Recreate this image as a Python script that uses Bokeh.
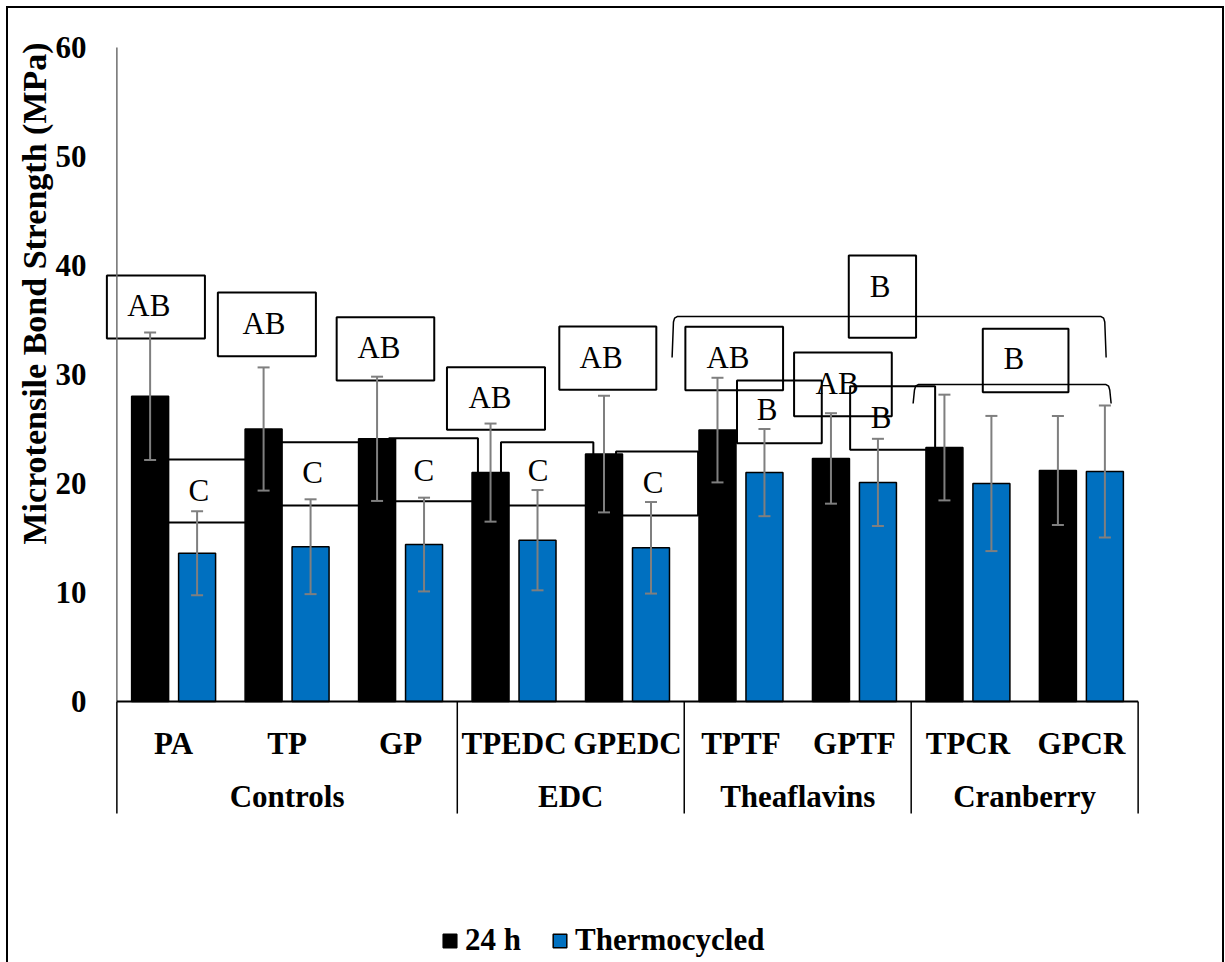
import numpy as np
from bokeh.plotting import figure
from bokeh.models import (ColumnDataSource, FactorRange, Range1d, FixedTicker, Whisker,
                          TeeHead, Legend, LegendItem, Title, InlineStyleSheet)
from bokeh.transform import dodge
from bokeh.core.properties import value
from bokeh.embed import file_html
from bokeh.resources import INLINE

# ---------------- data ----------------
samples = ["PA", "TP", "GP", "TPEDC", "GPEDC", "TPTF", "GPTF", "TPCR", "GPCR"]
groups = ["Controls", "EDC", "Theaflavins", "Cranberry"]
group_sizes = [3, 2, 2, 2]
series_names = ["24 h", "Thermocycled"]
mean_24h = [28.0, 25.0, 24.1, 21.0, 22.7, 24.9, 22.3, 23.3, 21.2]
sd_24h = [5.85, 5.65, 5.7, 4.5, 5.35, 4.8, 4.15, 4.85, 5.0]
mean_tc = [13.6, 14.2, 14.4, 14.8, 14.1, 21.0, 20.1, 20.0, 21.1]
sd_tc = [3.85, 4.35, 4.3, 4.6, 4.2, 4.0, 4.0, 6.2, 6.05]
y_ticks = [0, 10, 20, 30, 40, 50, 60]
y_title = "Microtensile Bond Strength  (MPa)"

# significance letters (text boxes drawn on the chart)
sig_letters = ["AB", "C", "AB", "C", "AB", "C", "AB", "C", "AB", "C",
               "AB", "B", "AB", "B", "B", "B"]

# ---------------- layout of annotations (data coordinates) ----------------
# (left, right, top, bottom, text_x, text_y)
box_layout = [
    (-0.088, 0.776, 39.08, 33.30, 0.282, 36.33),
    (0.388, 1.181, 22.20, 16.42, 0.723, 19.36),
    (0.890, 1.754, 37.52, 31.68, 1.296, 34.68),
    (1.402, 2.195, 23.79, 17.98, 1.725, 21.04),
    (1.937, 2.797, 35.26, 29.45, 2.310, 32.48),
    (2.398, 3.182, 24.16, 18.38, 2.706, 21.19),
    (2.909, 3.773, 30.67, 24.93, 3.288, 27.89),
    (3.385, 4.199, 23.79, 17.98, 3.711, 21.19),
    (3.899, 4.754, 34.40, 28.60, 4.267, 31.56),
    (4.399, 5.122, 22.94, 17.06, 4.725, 20.09),
    (5.010, 5.871, 34.38, 28.56, 5.385, 31.56),
    (5.465, 6.212, 29.45, 23.70, 5.730, 26.79),
    (5.968, 6.829, 32.02, 26.17, 6.347, 29.17),
    (6.462, 7.211, 28.93, 23.09, 6.735, 26.08),
    (6.450, 7.043, 40.92, 33.37, 6.726, 38.07),
    (7.631, 8.386, 34.20, 28.38, 7.905, 31.44),
]
# brackets: (x0, x1, y_top, y_bottom)
brackets = [(4.893, 8.718, 35.32, 31.56), (7.017, 8.762, 29.08, 27.34)]

FONT = "Liberation Serif"
BLUE = "#0070C0"
GRAY = "#7F7F7F"
off = 0.207
bar_w = 0.326

src = ColumnDataSource(dict(
    sample=samples,
    m24=mean_24h, mtc=mean_tc,
    up24=[m + s for m, s in zip(mean_24h, sd_24h)],
    lo24=[m - s for m, s in zip(mean_24h, sd_24h)],
    uptc=[m + s for m, s in zip(mean_tc, sd_tc)],
    lotc=[m - s for m, s in zip(mean_tc, sd_tc)],
))

border_css = InlineStyleSheet(css="""
:host { position: relative; overflow: hidden; }
:host::after {
  content: ""; position: absolute; left: 6px; top: 6px; width: 1218px; height: 990px;
  border: 2px solid black; box-sizing: border-box; pointer-events: none; z-index: 100;
}
""")

p = figure(width=1225, height=962, output_backend="svg", toolbar_location=None,
           x_range=FactorRange(factors=samples, range_padding=0.25,
                               range_padding_units="absolute"),
           y_range=Range1d(-23.945, 64.312), x_axis_location=None,
           min_border_left=88, min_border_right=59, min_border_top=0,
           min_border_bottom=0, stylesheets=[border_css])
p.outline_line_color = None
p.xgrid.visible = False
p.ygrid.visible = False
p.background_fill_color = "white"
p.border_fill_color = "white"

ax = p.yaxis[0]
ax.ticker = FixedTicker(ticks=y_ticks)
ax.axis_line_color = None
ax.major_tick_line_color = None
ax.minor_tick_line_color = None
ax.major_label_standoff = -4
ax.major_label_text_font = FONT
ax.major_label_text_font_style = "bold"
ax.major_label_text_font_size = "31px"
ax.major_label_text_color = "black"

# y axis title (left panel, shifted up along the axis)
p.add_layout(Title(text=y_title, align="left", offset=418, standoff=0,
                   text_font=FONT, text_font_style="bold", text_font_size="34px",
                   text_color="black"), "left")

# significance boxes (behind bars)
p.quad(left=[b[0] for b in box_layout], right=[b[1] for b in box_layout],
       top=[b[2] for b in box_layout], bottom=[b[3] for b in box_layout],
       fill_color=None, line_color="black", line_width=2)

# bars
r1 = p.vbar(x=dodge("sample", -off, range=p.x_range), top="m24", width=bar_w,
            source=src, fill_color="black", line_color="black", line_width=1.5)
r2 = p.vbar(x=dodge("sample", off, range=p.x_range), top="mtc", width=bar_w,
            source=src, fill_color=BLUE, line_color="black", line_width=1.5)

# axis lines and category table
p.segment(x0=[0], y0=[0], x1=[0], y1=[max(y_ticks)], line_color="#6E6E6E", line_width=1.5)
bounds = [0] + [int(v) for v in np.cumsum(group_sizes)]
p.segment(x0=bounds, y0=[0] * len(bounds), x1=bounds, y1=[-10.28] * len(bounds),
          line_color="black", line_width=1.5)
p.segment(x0=[0], y0=[0], x1=[len(samples)], y1=[0], line_color="black", line_width=2)

# brackets
for (x0, x1, yt, yb) in brackets:
    xs = [x0, x0 + 0.012, x0 + 0.022, x0 + 0.045, x1 - 0.045, x1 - 0.022, x1 - 0.012, x1]
    ys = [yb, yt - 0.5, yt - 0.15, yt, yt, yt - 0.15, yt - 0.5, yb]
    p.line(xs, ys, line_color="black", line_width=1.5)

# error bars
for up, lo, o in (("up24", "lo24", -off), ("uptc", "lotc", off)):
    w = Whisker(base=dodge("sample", o, range=p.x_range), upper=up, lower=lo, source=src,
                line_color=GRAY, line_width=2, level="annotation",
                upper_head=TeeHead(size=12, line_color=GRAY, line_width=2),
                lower_head=TeeHead(size=12, line_color=GRAY, line_width=2))
    p.add_layout(w)

# significance letters
p.text(x=[b[4] for b in box_layout], y=[b[5] for b in box_layout], text=sig_letters,
       text_font=value(FONT), text_font_size="31px", text_color="black",
       text_align="center", text_baseline="middle")

# category labels
p.text(x="sample", y=-3.81, text="sample", source=src, text_font=value(FONT),
       text_font_style="bold", text_font_size="31px", text_align="center",
       text_baseline="middle", text_color="black")
centers = [bounds[i] + group_sizes[i] / 2 for i in range(len(groups))]
p.text(x=centers, y=[-8.76] * len(groups), text=groups, text_font=value(FONT),
       text_font_style="bold", text_font_size="31px", text_align="center",
       text_baseline="middle", text_color="black")

# legend
legend = Legend(items=[LegendItem(label=series_names[0], renderers=[r1]),
                       LegendItem(label=series_names[1], renderers=[r2])],
                orientation="horizontal", location=(353, 4), glyph_width=17,
                glyph_height=17, label_standoff=7, spacing=30, padding=0, margin=0,
                border_line_color=None, background_fill_alpha=0,
                label_text_font=FONT, label_text_font_style="bold",
                label_text_font_size="31px", label_text_color="black")
p.add_layout(legend)

open("out.html", "w").write(file_html(p, INLINE))
